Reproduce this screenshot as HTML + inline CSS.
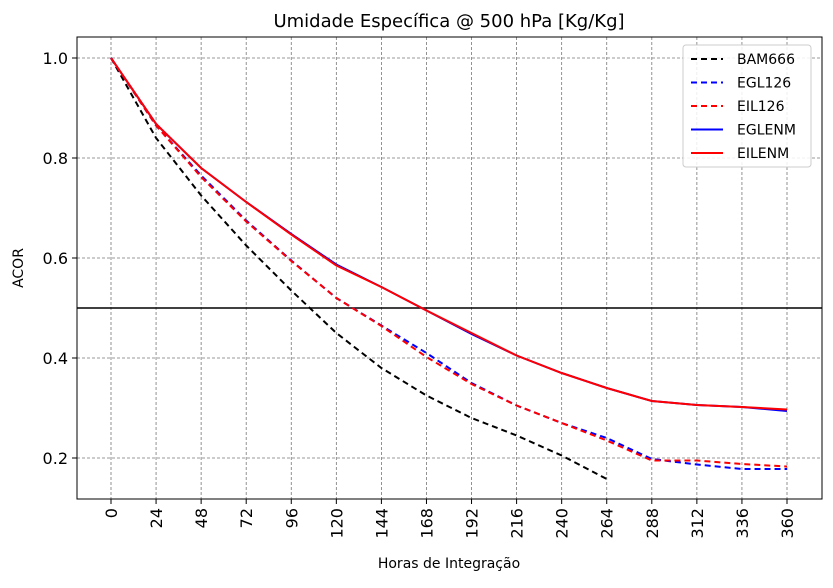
<!DOCTYPE html>
<html><head><meta charset="utf-8"><style>
body{margin:0;background:#fff;font-family:"Liberation Sans","DejaVu Sans",sans-serif;}
svg text{font-family:"DejaVu Sans","Liberation Sans",sans-serif;}
</style></head><body>
<svg id="chart" width="833" height="583" xmlns="http://www.w3.org/2000/svg">
<rect width="833" height="583" fill="#fff"/>
<text x="449" y="27" font-size="18" text-anchor="middle">Umidade Específica @ 500 hPa [Kg/Kg]</text>
<g id="grid"></g><g id="series"></g><g id="axes"></g>
<text x="449" y="568" font-size="14" text-anchor="middle">Horas de Integração</text>
<text transform="translate(23,268) rotate(-90)" font-size="14" text-anchor="middle">ACOR</text>
<g id="legend"></g>
</svg>
<script>
const hours=[0,24,48,72,96,120,144,168,192,216,240,264,288,312,336,360];
const yTicks=[0.2,0.4,0.6,0.8,1.0];
const seriesNames=["BAM666","EGL126","EIL126","EGLENM","EILENM"];
const bam666=[1.0,0.84,0.725,0.625,0.535,0.45,0.38,0.325,0.28,0.245,0.205,0.158];
const egl126=[1.0,0.865,0.765,0.675,0.595,0.52,0.465,0.41,0.35,0.305,0.27,0.24,0.198,0.187,0.178,0.178];
const eil126=[1.0,0.865,0.762,0.673,0.594,0.52,0.464,0.402,0.348,0.305,0.27,0.235,0.195,0.195,0.188,0.183];
const eglenm=[1.0,0.868,0.78,0.712,0.648,0.587,0.542,0.495,0.448,0.405,0.37,0.34,0.314,0.306,0.302,0.294];
const eilenm=[1.0,0.868,0.78,0.712,0.647,0.585,0.542,0.495,0.45,0.405,0.37,0.34,0.314,0.306,0.302,0.297];
const L=77,R=822,T=37,B=499;
const X=h=>111+h*(676/360);
const Y=v=>558-v*500;
const NS="http://www.w3.org/2000/svg";
function mk(tag,attrs,parent){const e=document.createElementNS(NS,tag);for(const k in attrs)e.setAttribute(k,attrs[k]);parent.appendChild(e);return e;}
const grid=document.getElementById('grid'),axes=document.getElementById('axes'),ser=document.getElementById('series'),leg=document.getElementById('legend');
hours.forEach(h=>{
 const g=mk('line',{x1:X(h),x2:X(h),y1:T,y2:B,stroke:'#777','stroke-width':0.8,'stroke-dasharray':'3,2'},grid);
 
 
 const t=mk('line',{x1:X(h),x2:X(h),y1:B,y2:B+5,stroke:'#000'},axes);
 
 
 const lb=mk('text',{transform:`translate(${X(h)+6},${B+9}) rotate(-90)`,'font-size':16,'text-anchor':'end'},axes);
 lb.textContent=h;
 
 
});
yTicks.forEach(v=>{
 const g=mk('line',{x1:L,x2:R,y1:Y(v),y2:Y(v),stroke:'#777','stroke-width':0.8,'stroke-dasharray':'3,2'},grid);
 
 
 const t=mk('line',{x1:L-5,x2:L,y1:Y(v),y2:Y(v),stroke:'#000'},axes);
 
 
 const lb=mk('text',{x:L-9,y:Y(v)+6,'font-size':16,'text-anchor':'end'},axes);
 lb.textContent=v.toFixed(1);
 
 
});
const ref=mk('line',{x1:L,x2:R,y1:Y(0.5),y2:Y(0.5),stroke:'#000','stroke-width':1.5},ser);


const frame=mk('rect',{x:L,y:T,width:R-L,height:B-T,fill:'none',stroke:'#000','stroke-width':1},axes);


const defs=[[bam666,'#000','6,4','bam666-line'],[egl126,'#00f','6,4','egl126-line'],[eil126,'#f00','6,4','eil126-line'],[eglenm,'#00f','','eglenm-line'],[eilenm,'#f00','','eilenm-line']];
defs.forEach(([d,c,da,n])=>{
 const p=mk('polyline',{points:d.map((v,i)=>X(hours[i])+','+Y(v)).join(' '),fill:'none',stroke:c,'stroke-width':2,'stroke-dasharray':da},ser);
 
 
});
const lb=mk('rect',{x:683,y:45,width:128,height:122,rx:3,fill:'#fff','fill-opacity':0.85,stroke:'#ccc'},leg);


defs.forEach(([d,c,da,n],i)=>{
 const y=59+i*23.5;
 const l=mk('line',{x1:691,x2:723,y1:y,y2:y,stroke:c,'stroke-width':2,'stroke-dasharray':da},leg);
 
 
 const t=mk('text',{x:737,y:y+5,'font-size':14},leg);
 t.textContent=seriesNames[i];
 
 
});
</script>
</body></html>
